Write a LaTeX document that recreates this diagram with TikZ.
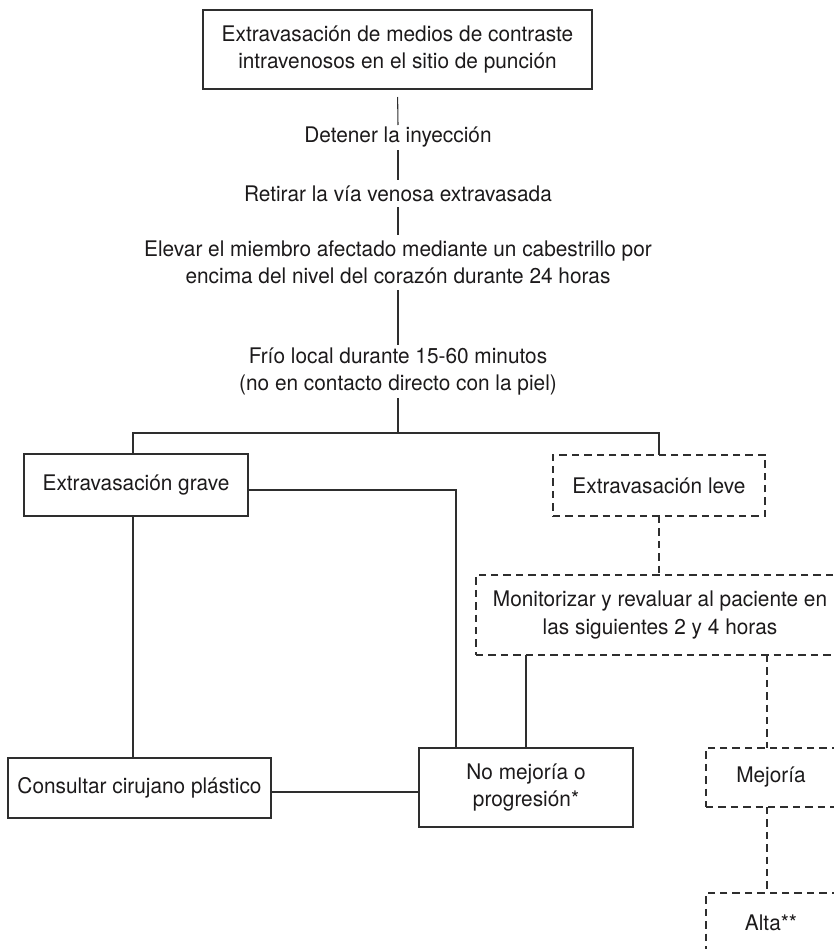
\documentclass[tikz,border=0pt]{standalone}
\usepackage{fontspec}
\setmainfont{TeX Gyre Heros}[FakeStretch=0.97]
\usetikzlibrary{calc}
\definecolor{ink}{HTML}{1C1A1B}
\definecolor{ln}{HTML}{2E2E2E}
\begin{document}
\begin{tikzpicture}[x=0.75pt,y=-0.75pt,
  every node/.style={font=\fontsize{16.1}{20.5}\selectfont, text=ink, align=center, inner sep=0pt, outer sep=0pt},
  boxs/.style={draw=ln, line width=0.8pt},
  boxd/.style={draw=ln, line width=0.8pt, dash pattern=on 5.5pt off 3.8pt},
  txt/.style={},
  con/.style={draw=ln, line width=0.8pt},
  cond/.style={draw=ln, line width=0.8pt, dash pattern=on 5.5pt off 3.8pt}]
\useasboundingbox (0,0) rectangle (834,949);
\clip (0,0) rectangle (834,949);
\node[boxs, minimum width=291.75pt, minimum height=59.25pt] (top) at (397.5,49.5)
  {Extravasación de medios de contraste\\intravenosos en el sitio de punción};
\node[txt, minimum height=18.75pt] (det) at (398,137.5) {Detener la inyección};
\node[txt, minimum height=20.25pt] (ret) at (398,193.5) {Retirar la vía venosa extravasada};
\node[txt, minimum height=41.25pt] (elev) at (398,262.5)
  {Elevar el miembro afectado mediante un cabestrillo por\\encima del nivel del corazón durante 24 horas};
\node[txt, minimum height=39.75pt] (frio) at (398,371.5)
  {Frío local durante 15-60 minutos\\(no en contacto directo con la piel)};
\coordinate (split) at (398,433);
\node[boxs, minimum width=168pt, minimum height=46.5pt] (grave) at (136,485) {Extravasación grave};
\node[boxd, minimum width=159pt, minimum height=45.75pt] (leve) at (659,485.5) {Extravasación leve};
\node[boxd, minimum width=276pt, minimum height=60pt] (moni) at (660,615)
  {Monitorizar y revaluar al paciente en\\las siguientes 2 y 4 horas};
\node[boxs, minimum width=160.5pt, minimum height=59.25pt] (nomej) at (526,787.5)
  {No mejoría o\\progresión*};
\node[boxd, minimum width=97.5pt, minimum height=44.25pt] (mej) at (771,777.5) {Mejoría};
\node[boxd, minimum width=97.5pt, minimum height=44.25pt] (alta) at (771,922.5) {Alta**};
\node[boxs, minimum width=197.25pt, minimum height=45pt] (cons) at (139.5,788) {Consultar cirujano plástico};
% connectors
\draw[con, shorten <=6pt] (top.south) -- (det.north);
\draw[con] (det.south) -- (ret.north);
\draw[con] (ret.south) -- (elev.north);
\draw[con] (elev.south) -- (frio.north);
\draw[con] (frio.south) -- (split);
\draw[con] ([xshift=-2.25pt]grave.north) |- (split) -| (leve.north);
\draw[cond] (leve.south) -- (leve.south |- moni.north);
\draw[con] (moni.south -| nomej.north) -- (nomej.north);
\draw[cond] ([xshift=-3pt]moni.south -| mej.north) -- ([xshift=-3pt]mej.north);
\draw[cond] ([xshift=-3pt]mej.south) -- ([xshift=-3pt]alta.north);
\draw[con] ([yshift=-3.75pt]grave.east) -| ([xshift=27.75pt]nomej.north west);
\draw[con] ([xshift=-2.25pt]grave.south) -- ([xshift=-2.25pt]grave.south |- cons.north);
\draw[con] ([yshift=-3pt]cons.east) -- ([yshift=-3pt]cons.east -| nomej.west);
\end{tikzpicture}
\end{document}
